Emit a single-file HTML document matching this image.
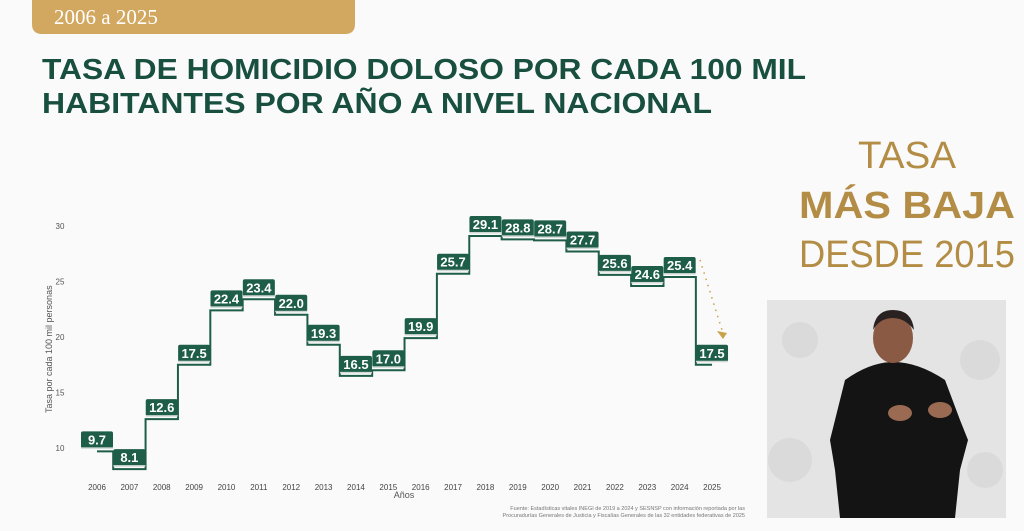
<!DOCTYPE html>
<html><head><meta charset="utf-8">
<style>
html,body{margin:0;padding:0;background:#fafafa;}
svg{display:block;font-family:"Liberation Sans",sans-serif;}
</style></head>
<body>
<svg id="s" width="1024" height="531" viewBox="0 0 1024 531" xmlns="http://www.w3.org/2000/svg">
<rect width="1024" height="531" fill="#fafafa"/>
<path d="M32 0 H355 V24 Q355 34 345 34 H42 Q32 34 32 24 Z" fill="#d2a861"/>
<text x="54" y="24" font-family="Liberation Serif,serif" font-size="21" fill="#fff">2006 a 2025</text>
<text x="42" y="79" font-size="29" font-weight="bold" fill="#184f3f" textLength="764" lengthAdjust="spacingAndGlyphs">TASA DE HOMICIDIO DOLOSO POR CADA 100 MIL</text>
<text x="42" y="113" font-size="29" font-weight="bold" fill="#184f3f" textLength="670" lengthAdjust="spacingAndGlyphs">HABITANTES POR AÑO A NIVEL NACIONAL</text>
<g fill="#b38d45" text-anchor="middle">
<text x="907" y="168" font-size="38" textLength="98" lengthAdjust="spacingAndGlyphs">TASA</text>
<text x="907" y="218" font-size="38" font-weight="bold" textLength="216" lengthAdjust="spacingAndGlyphs">MÁS BAJA</text>
<text x="907" y="267" font-size="38" textLength="216" lengthAdjust="spacingAndGlyphs">DESDE 2015</text>
</g>
<rect x="767" y="300" width="239" height="218" fill="#e4e4e4"/>
<g fill="#d6d6d6" opacity="0.7">
<circle cx="800" cy="340" r="18"/><circle cx="980" cy="360" r="20"/><circle cx="790" cy="460" r="22"/><circle cx="985" cy="470" r="18"/>
</g>
<path d="M845 380 Q870 362 893 362 Q918 362 945 380 L960 420 L968 440 L960 470 L955 518 H840 L835 470 L830 440 Z" fill="#141414"/>
<ellipse cx="893" cy="338" rx="20" ry="25" fill="#8a5a44"/>
<path d="M873 330 Q875 310 893 310 Q912 310 914 330 Q905 318 893 318 Q880 318 873 330 Z" fill="#2a2220"/>
<ellipse cx="900" cy="413" rx="12" ry="8" fill="#9a6a52"/>
<ellipse cx="940" cy="410" rx="12" ry="8" fill="#9a6a52"/>
<g id="chart" font-size="8" fill="#555"></g>
<text x="52" y="413" font-size="9" fill="#555" transform="rotate(-90 52 413)">Tasa por cada 100 mil personas</text>
<text x="404" y="498" font-size="9" fill="#555" text-anchor="middle">Años</text>
<text x="745" y="510" font-size="5.5" fill="#777" text-anchor="end">Fuente: Estadísticas vitales INEGI de 2019 a 2024 y SESNSP con información reportada por las</text>
<text x="745" y="517" font-size="5.5" fill="#777" text-anchor="end">Procuradurías Generales de Justicia y Fiscalías Generales de las 32 entidades federativas de 2025</text>
</svg>
<script>
var v=[9.7,8.1,12.6,17.5,22.4,23.4,22.0,19.3,16.5,17.0,19.9,25.7,29.1,28.8,28.7,27.7,25.6,24.6,25.4,17.5];
var g=document.getElementById('chart'),h='';
function X(i){return 97+i*32.37}function Y(a){return 448-(a-10)*11.1}
[10,15,20,25,30].forEach(function(t){h+='<text x="60" y="'+(Y(t)+3)+'" text-anchor="middle">'+t+'</text>'});
var d='M'+X(0)+' '+Y(v[0]);
for(var i=0;i<v.length;i++){
 if(i>0)d+=' V'+Y(v[i]);
 d+=' H'+(i<v.length-1?X(i)+16.2:X(i));
 h+='<text x="'+X(i)+'" y="490" text-anchor="middle" fill="#444">'+(2006+i)+'</text>';
}
h+='<path d="'+d+'" fill="none" stroke="#1e5e48" stroke-width="2"/>';
for(var i=0;i<v.length;i++){
 var x=X(i),y=Y(v[i]);
 h+='<rect x="'+(x-16)+'" y="'+(y-20)+'" width="32" height="17" rx="2" fill="#1e5e48"/>';
 h+='<rect x="'+(x-16)+'" y="'+(y-4)+'" width="32" height="1.5" fill="#cfd8d3"/>';
 h+='<text x="'+x+'" y="'+(y-7)+'" text-anchor="middle" font-size="13" font-weight="bold" fill="#fff">'+v[i].toFixed(1)+'</text>';
}
h+='<path d="M700 260 L722 330" stroke="#c9a24a" stroke-width="1.5" stroke-dasharray="1.5 5" fill="none"/>';
h+='<path d="M717 331 L727 333 L723 339 Z" fill="#c9a24a"/>';
g.innerHTML=h;
</script>
</body></html>
